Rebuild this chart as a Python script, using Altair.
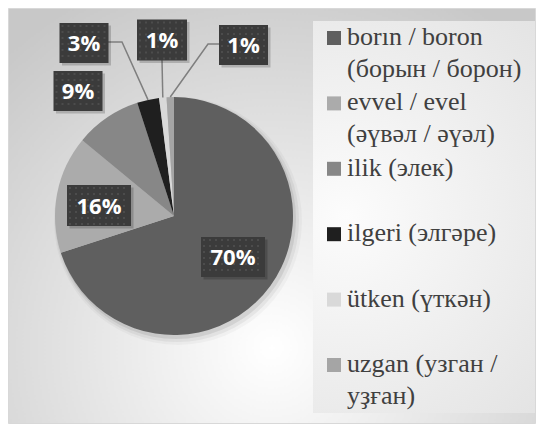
import math
import altair as alt
import pandas as pd

# ---------------- data ----------------
categories = [
    "borın / boron\n(борын / борон)",
    "evvel / evel\n(әүвәл / әүәл)",
    "ilik (элек)",
    "ilgeri (элгәре)",
    "ütken (үткән)",
    "uzgan (узган /\nуҙған)",
]
values = [70, 16, 9, 3, 1, 1]
slice_colors = ["#5f5f5f", "#ababab", "#878787", "#1f1f1f", "#d9d9d9", "#a5a5a5"]

# ---------------- layout ----------------
W, H = 528, 416
CX, CY, R = 166, 208, 119
label_pos = [(225, 249), (91, 197.5), (70, 83), (76, 35), (154, 32), (235.5, 37)]
label_size = [(64, 40), (64, 41), (49, 40), (49, 40), (50, 41), (49, 40)]
leaders = {3: [(100, 34), (114, 34)], 4: [(154, 52)], 5: [(211, 36), (200, 36)]}
LEG_X, LEG_Y0, LEG_STEP = 326, 30, 65.4

order = list(range(len(values)))
total = sum(values)

pie_df = pd.DataFrame({"cat": categories, "value": values, "order": order})

rows = []
for i, v in enumerate(values):
    cx, cy = label_pos[i]
    w, h = label_size[i]
    rows.append({"x0": cx - w / 2, "x1": cx + w / 2, "y0": cy - h / 2, "y1": cy + h / 2,
                 "cx": cx, "cy": cy, "txt": f"{v}%"})
lab_df = pd.DataFrame(rows)
shadow_df = lab_df.copy()
for c in ["x0", "x1", "y0", "y1"]:
    shadow_df[c] = shadow_df[c] + 2.5

dots = []
for r in rows:
    yy = r["y0"] + 3
    while yy < r["y1"] - 1:
        xx = r["x0"] + 3
        while xx < r["x1"] - 1:
            dots.append({"dx": xx, "dy": yy})
            xx += 6
        yy += 6
dot_df = pd.DataFrame(dots)

lines = []
cum = 0
for i, v in enumerate(values):
    mid = (cum + v / 2) / total * 2 * math.pi
    cum += v
    if i in leaders:
        pts = list(leaders[i]) + [(CX + R * math.sin(mid), CY - R * math.cos(mid))]
        for k, (px, py) in enumerate(pts):
            lines.append({"g": i, "k": k, "px": px, "py": py})
line_df = pd.DataFrame(lines)

leg_df = pd.DataFrame({
    "lab": categories,
    "sx": [LEG_X] * len(categories),
    "sy": [LEG_Y0 + LEG_STEP * i for i in order],
})

one = pd.DataFrame({"a": [0]})

bg = alt.Chart(one).mark_rect(
    fill=alt.RadialGradient(
        gradient="radial",
        stops=[alt.GradientStop(color="#ffffff", offset=0),
               alt.GradientStop(color="#c8c8c8", offset=1)],
        x1=0.5, y1=0.75, r1=0, x2=0.5, y2=0.75, r2=0.75),
    stroke="#d8d8d8", strokeWidth=1,
).encode(x=alt.value(0.5), x2=alt.value(W - 0.5), y=alt.value(0.5), y2=alt.value(H - 0.5))

legbox = alt.Chart(one).mark_rect(
    fill=alt.RadialGradient(
        gradient="radial",
        stops=[alt.GradientStop(color="#fcfcfc", offset=0),
               alt.GradientStop(color="#e0e0e0", offset=1)],
        x1=0.3, y1=0.5, r1=0, x2=0.3, y2=0.5, r2=0.8),
).encode(x=alt.value(305), x2=alt.value(527), y=alt.value(13), y2=alt.value(405))

shadows = [
    alt.Chart(one).mark_arc(radius=R + rr, theta=0, theta2=2 * math.pi, color="#000000", opacity=op)
    .encode(x=alt.value(CX + dx), y=alt.value(CY + dy))
    for rr, dx, dy, op in [(5, 4, 5, 0.03), (3, 3, 4, 0.05), (1, 2, 3, 0.08)]
]

pie = alt.Chart(pie_df).mark_arc(radius=R).encode(
    theta=alt.Theta("value:Q", stack=True),
    color=alt.Color("cat:N", scale=alt.Scale(domain=categories, range=slice_colors), legend=None),
    order=alt.Order("order:Q"),
    x=alt.value(CX), y=alt.value(CY),
)

leader = alt.Chart(line_df).mark_line(color="#7f7f7f", strokeWidth=1.5).encode(
    x=alt.X("px:Q", scale=None), y=alt.Y("py:Q", scale=None),
    detail="g:N", order="k:Q",
)

box_shadow = alt.Chart(shadow_df).mark_rect(color="#000000", opacity=0.18).encode(
    x=alt.X("x0:Q", scale=None), x2="x1:Q", y=alt.Y("y0:Q", scale=None), y2="y1:Q")
box = alt.Chart(lab_df).mark_rect(color="#3b3b3b").encode(
    x=alt.X("x0:Q", scale=None), x2="x1:Q", y=alt.Y("y0:Q", scale=None), y2="y1:Q")
dot_layer = alt.Chart(dot_df).mark_square(size=4, color="#4c4c4c", opacity=1).encode(
    x=alt.X("dx:Q", scale=None), y=alt.Y("dy:Q", scale=None))

# percentage labels: one text layer per slice
box_txts = [
    alt.Chart(one).mark_text(
        font="Open Sans", fontWeight="bold", fontSize=22, color="#ffffff",
        baseline="middle", align="center",
    ).encode(x=alt.value(r["cx"]), y=alt.value(r["cy"] + 1), text=alt.value(r["txt"]))
    for r in rows
]

leg_sq = alt.Chart(leg_df).mark_square(size=196, opacity=1).encode(
    x=alt.X("sx:Q", scale=None), y=alt.Y("sy:Q", scale=None),
    color=alt.Color("lab:N", scale=alt.Scale(domain=categories, range=slice_colors), legend=None),
)
# legend labels: one text layer per category
leg_txts = [
    alt.Chart(one).mark_text(
        font="Liberation Serif", fontSize=26, color="#404040", align="left",
        baseline="alphabetic", lineBreak="\n", lineHeight=32,
    ).encode(x=alt.value(LEG_X + 13), y=alt.value(LEG_Y0 + LEG_STEP * i + 7), text=alt.value(lab))
    for i, lab in enumerate(categories)
]

chart = alt.layer(
    bg, legbox, *shadows, pie, leader, leg_sq, *leg_txts, box_shadow, box, dot_layer, *box_txts
).properties(
    width=W, height=H, padding=0, autosize=alt.AutoSizeParams(type="none"),
).configure_view(strokeWidth=0)

chart.save("out.html", embed_options={"renderer": "svg", "actions": False})
